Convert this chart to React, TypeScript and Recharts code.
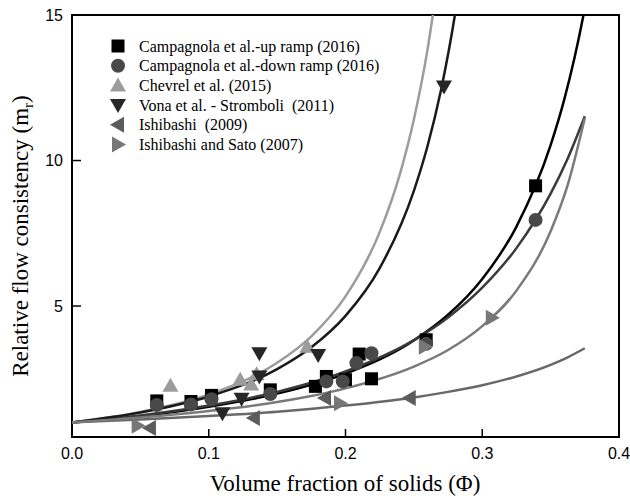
import React from "react";
import { ComposedChart, Line, Scatter, XAxis, YAxis, ReferenceArea, Label } from "recharts";

// measured data (phi, relative flow consistency)
const upRampPhi = [0.062, 0.087, 0.102, 0.145, 0.178, 0.186, 0.2, 0.21, 0.219, 0.259, 0.339];
const upRampMr = [1.74, 1.72, 1.93, 2.12, 2.24, 2.58, 2.47, 3.35, 2.5, 3.84, 9.13];

const downRampPhi = [0.062, 0.087, 0.102, 0.145, 0.186, 0.198, 0.208, 0.219, 0.259, 0.339];
const downRampMr = [1.6, 1.62, 1.8, 1.98, 2.41, 2.41, 3.04, 3.38, 3.7, 7.96];

const chevrelPhi = [0.072, 0.123, 0.131, 0.135, 0.172];
const chevrelMr = [2.26, 2.47, 2.3, 2.66, 3.6];

const vonaPhi = [0.11, 0.124, 0.137, 0.137, 0.18, 0.272];
const vonaMr = [1.32, 1.81, 2.58, 3.38, 3.32, 12.54];

const ishiPhi = [0.057, 0.133, 0.185, 0.247];
const ishiMr = [0.81, 1.15, 1.84, 1.84];

const satoPhi = [0.048, 0.196, 0.258, 0.307];
const satoMr = [0.89, 1.66, 3.6, 4.6];

// fitted curves
const fitPhi = [0, 0.05, 0.1, 0.15, 0.2, 0.25, 0.275, 0.3, 0.325, 0.35, 0.3625, 0.375];
const upFitPhi = [0, 0.05, 0.1, 0.15, 0.2, 0.25, 0.275, 0.3, 0.325, 0.35, 0.36, 0.375, 0.38];
const upFitMr = [1, 1.22, 1.54, 1.99, 2.68, 3.82, 4.7, 5.93, 7.73, 10.53, 12.1, 15.24, 16.56];
const downFitMr = [1, 1.24, 1.58, 2.05, 2.75, 3.83, 4.61, 5.63, 6.99, 8.86, 10.07, 11.52];
const satoFitMr = [1, 1.17, 1.39, 1.7, 2.17, 2.92, 3.49, 4.31, 5.53, 7.57, 9.16, 11.46];
const ishiFitMr = [1, 1.1, 1.22, 1.37, 1.58, 1.86, 2.05, 2.28, 2.58, 2.98, 3.24, 3.55];
const chevrelFitPhi = [0, 0.05, 0.1, 0.15, 0.175, 0.2, 0.225, 0.24, 0.25, 0.26, 0.27];
const chevrelFitMr = [1, 1.36, 1.96, 3.05, 3.96, 5.33, 7.54, 9.57, 11.41, 13.82, 17.07];
const vonaFitPhi = [0, 0.05, 0.1, 0.15, 0.175, 0.2, 0.225, 0.25, 0.26, 0.27, 0.28, 0.285];
const vonaFitMr = [1, 1.34, 1.89, 2.83, 3.58, 4.66, 6.3, 8.96, 10.5, 12.46, 15.0, 16.58];

const xTicks = [0, 0.1, 0.2, 0.3, 0.4];
const yTicks = [5, 10, 15];

const pts = (xs: number[], ys: number[]) => xs.map((x, i) => ({ x, y: ys[i] }));

const SERIF = "'Liberation Serif', 'Times New Roman', serif";
const SANS = "'Liberation Sans', Arial, sans-serif";

type Marker = "square" | "circle" | "up" | "down" | "left" | "right";

function drawMarker(kind: Marker, cx: number, cy: number, fill: string) {
  switch (kind) {
    case "square":
      return <rect x={cx - 6.5} y={cy - 6.5} width={13} height={13} fill={fill} />;
    case "circle":
      return <circle cx={cx} cy={cy} r={7} fill={fill} />;
    case "up":
      return <polygon points={`${cx},${cy - 8} ${cx + 8},${cy + 6} ${cx - 8},${cy + 6}`} fill={fill} />;
    case "down":
      return <polygon points={`${cx},${cy + 8} ${cx + 8},${cy - 6} ${cx - 8},${cy - 6}`} fill={fill} />;
    case "left":
      return <polygon points={`${cx - 8},${cy} ${cx + 6},${cy - 8} ${cx + 6},${cy + 8}`} fill={fill} />;
    default:
      return <polygon points={`${cx + 8},${cy} ${cx - 6},${cy - 8} ${cx - 6},${cy + 8}`} fill={fill} />;
  }
}

const series = [
  { name: "Campagnola et al.-up ramp (2016)", marker: "square" as Marker, color: "#000000", data: pts(upRampPhi, upRampMr) },
  { name: "Campagnola et al.-down ramp (2016)", marker: "circle" as Marker, color: "#484848", data: pts(downRampPhi, downRampMr) },
  { name: "Chevrel et al. (2015)", marker: "up" as Marker, color: "#9c9c9c", data: pts(chevrelPhi, chevrelMr) },
  { name: "Vona et al. - Stromboli  (2011)", marker: "down" as Marker, color: "#262626", data: pts(vonaPhi, vonaMr) },
  { name: "Ishibashi  (2009)", marker: "left" as Marker, color: "#5c5c5c", data: pts(ishiPhi, ishiMr) },
  { name: "Ishibashi and Sato (2007)", marker: "right" as Marker, color: "#777777", data: pts(satoPhi, satoMr) },
];

const curves = [
  { key: "fit-up", color: "#000000", data: pts(upFitPhi, upFitMr) },
  { key: "fit-down", color: "#3a3a3a", data: pts(fitPhi, downFitMr) },
  { key: "fit-chevrel", color: "#9c9c9c", data: pts(chevrelFitPhi, chevrelFitMr) },
  { key: "fit-vona", color: "#1a1a1a", data: pts(vonaFitPhi, vonaFitMr) },
  { key: "fit-ishi", color: "#686868", data: pts(fitPhi, ishiFitMr) },
  { key: "fit-sato", color: "#7a7a7a", data: pts(fitPhi, satoFitMr) },
];

const XTick = (props: any) => {
  const { x, y, payload } = props;
  return (
    <g>
      <line x1={x} x2={x} y1={y} y2={y - 8} stroke="#000" strokeWidth={1.5} />
      <text x={x} y={y + 22} textAnchor="middle" fontSize={16} fontFamily={SANS} fill="#000">
        {Number(payload.value).toFixed(1)}
      </text>
    </g>
  );
};

const YTick = (props: any) => {
  const { x, y, payload } = props;
  return (
    <g>
      <line x1={x} x2={x + 9} y1={y} y2={y} stroke="#000" strokeWidth={1.5} />
      <text x={x - 9} y={y + 5.5} textAnchor="end" fontSize={16} fontFamily={SANS} fill="#000">
        {payload.value}
      </text>
    </g>
  );
};

export default function App() {
  return (
    <div style={{ position: "absolute", left: 0, top: 0, width: 630, height: 501, background: "#fff" }}>
      <ComposedChart width={630} height={501} margin={{ top: 15, right: 11, bottom: 0, left: 0 }}>
        <XAxis
          type="number"
          dataKey="x"
          domain={[0, 0.4]}
          ticks={xTicks}
          height={64}
          tickSize={0}
          tickMargin={0}
          tickLine={false}
          axisLine={false}
          tick={<XTick />}
          allowDataOverflow
        >
          <Label
            content={() => (
              <text x={345} y={491} textAnchor="middle" fontSize={23} fontFamily={SERIF} fill="#000">
                Volume fraction of solids (Φ)
              </text>
            )}
          />
        </XAxis>
        <YAxis
          type="number"
          dataKey="y"
          domain={[0.5, 15]}
          ticks={yTicks}
          width={72}
          tickSize={0}
          tickMargin={0}
          tickLine={false}
          axisLine={false}
          tick={<YTick />}
          allowDataOverflow
        >
          <Label
            content={() => (
              <text
                x={28}
                y={236}
                transform="rotate(-90, 28, 236)"
                textAnchor="middle"
                fontSize={23}
                fontFamily={SERIF}
                fill="#000"
              >
                Relative flow consistency (m
                <tspan fontSize={15} dy={5}>r</tspan>
                <tspan dy={-5}>)</tspan>
              </text>
            )}
          />
        </YAxis>
        <ReferenceArea x1={0} x2={0.4} y1={0.5} y2={15} fill="none" stroke="#000" strokeWidth={2} />
        {curves.map((c) => (
          <Line
            key={c.key}
            data={c.data}
            dataKey="y"
            type="monotone"
            stroke={c.color}
            strokeWidth={2.5}
            dot={false}
            activeDot={false}
            isAnimationActive={false}
          />
        ))}
        {series.map((s) => (
          <Scatter
            key={s.name}
            name={s.name}
            data={s.data}
            dataKey="y"
            fill={s.color}
            isAnimationActive={false}
            shape={(p: any) => drawMarker(s.marker, p.cx, p.cy, s.color)}
          />
        ))}
      </ComposedChart>
      <svg width={630} height={501} style={{ position: "absolute", left: 0, top: 0, pointerEvents: "none" }}>
        {series.map((s, i) => {
          const cy = 46 + i * 19.7;
          return (
            <g key={s.name}>
              {drawMarker(s.marker, 118, cy, s.color)}
              <text
                x={139}
                y={cy + 5.5}
                fontSize={16}
                fontFamily={SERIF}
                fill="#000"
                style={{ whiteSpace: "pre" }}
              >
                {s.name}
              </text>
            </g>
          );
        })}
      </svg>
    </div>
  );
}
